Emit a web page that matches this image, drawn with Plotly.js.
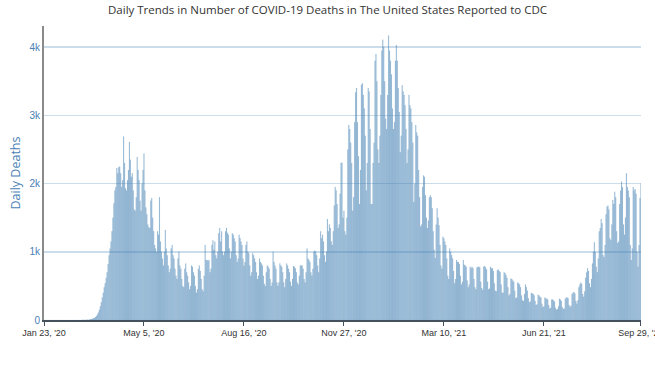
<!DOCTYPE html>
<html>
<head>
<meta charset="utf-8">
<script src="https://cdn.plot.ly/plotly-3.0.1.min.js"></script>
<style>html,body{margin:0;padding:0;background:#fff;}#chart{width:655px;height:365px;}</style>
</head>
<body>
<div id="chart"></div>
<script>
// Daily deaths, one value per day starting Jan 23, 2020 (weekly rows)
const startDate = '2020-01-23';
const dailyDeaths = [
  0,0,0,0,0,0,0,
  0,0,0,0,0,0,0,
  0,0,0,0,0,0,0,
  0,0,0,0,0,0,0,
  0,0,0,0,0,0,0,
  0,0,1,0,1,2,3,
  1,2,3,4,5,8,12,
  15,20,25,30,45,60,80,
  110,150,200,260,330,400,480,
  540,620,700,820,950,1050,1150,
  1300,1500,1710,1900,1950,2230,2150,
  2240,2250,2150,1950,2050,2690,2300,
  1930,1900,2050,2200,2610,2350,2100,
  2150,1900,1620,1600,1800,2390,2200,
  2050,1750,1600,2000,2200,2440,1900,
  1650,1550,1400,1360,1350,1750,1790,
  1500,1300,1100,1050,1000,1300,1250,
  1800,1150,1000,900,800,1000,1320,
  1050,950,800,700,750,1050,1100,
  950,900,750,650,600,900,1000,
  800,750,600,500,480,750,830,
  700,650,550,450,500,800,780,
  700,650,500,400,450,750,800,
  720,600,450,420,650,1100,880,
  880,870,880,700,750,1100,1170,
  1030,1150,950,900,1000,1270,1350,
  1150,1300,1000,950,1000,1300,1350,
  1280,1250,1050,900,1000,1270,1250,
  1200,1150,950,850,900,1250,1200,
  1150,1100,900,800,850,1100,1150,
  1000,980,800,650,700,980,950,
  900,850,700,600,650,900,850,
  830,800,650,530,500,700,800,
  780,750,600,500,550,1000,850,
  800,750,550,500,550,830,800,
  780,700,550,480,600,830,800,
  750,700,560,500,600,790,780,
  760,700,550,520,650,800,800,
  800,750,600,550,700,1050,900,
  880,850,700,650,750,1000,1020,
  1000,950,800,700,900,1300,1200,
  1250,1150,950,850,1000,1480,1300,
  1400,1350,1150,1100,1300,1680,1950,
  1900,1700,1350,1400,1850,2300,2310,
  1500,1600,1300,1250,1500,2500,2860,
  2800,2600,2300,1600,1800,2900,3340,
  3400,2900,2400,1700,2200,3450,3470,
  3300,3100,2700,1900,2300,3400,3350,
  2800,1700,1700,2300,2600,3800,3900,
  3500,2500,2300,2700,3300,3950,4110,
  4000,3500,2950,2800,3300,4170,3950,
  3800,3600,3100,2800,2900,3800,4030,
  3800,3400,3050,2460,2700,3440,3350,
  3300,3150,2800,2300,2500,3300,3150,
  3100,2900,2600,1730,2000,2860,2750,
  2700,2200,1800,1370,1400,1950,2120,
  2100,1830,1500,1350,1460,1800,1830,
  1800,1640,1300,1030,910,1400,1640,
  1500,1390,1100,800,750,1220,1200,
  1150,1100,900,650,600,1050,1000,
  950,900,720,540,600,880,850,
  850,820,650,520,560,880,810,
  800,780,580,480,520,780,760,
  780,760,600,480,450,770,780,
  780,770,560,470,440,780,790,
  770,740,560,450,460,780,760,
  760,720,540,430,420,730,740,
  720,700,520,400,400,700,690,
  660,620,480,360,380,610,600,
  580,560,430,320,330,550,540,
  520,480,360,290,280,380,520,
  480,430,320,260,270,400,390,
  380,360,280,220,230,370,360,
  340,330,240,190,200,330,320,
  310,300,220,170,180,300,300,
  290,270,180,150,160,200,310,
  300,280,190,160,170,310,330,
  330,320,220,190,210,380,400,
  410,390,280,240,290,480,520,
  550,530,380,340,420,620,700,
  760,720,540,480,600,830,1000,
  1140,1000,780,700,900,1300,1350,
  1480,1420,950,920,1100,1550,1660,
  1680,1620,1200,1170,1400,1760,1700,
  1880,1800,1300,1130,1150,1700,1900,
  2030,1950,1400,1250,1500,2150,1950,
  1900,1800,1100,880,1050,1950,1900,
  1920,1850,1000,780,1100,1790,2000
];
const xTickVals = ['2020-01-23','2020-05-05','2020-08-16','2020-11-27','2021-03-10','2021-06-21','2021-09-29'];
const xTickText = ["Jan 23, '20","May 5, '20","Aug 16, '20","Nov 27, '20","Mar 10, '21","Jun 21, '21","Sep 29, '21"];
const yTickVals = [0,1000,2000,3000,4000];
const yTickText = ['0','1k','2k','3k','4k'];

const dates = dailyDeaths.map((v, i) => {
  const d = new Date(startDate + 'T00:00:00Z');
  d.setUTCDate(d.getUTCDate() + i);
  return d.toISOString().slice(0, 10);
});

const trace = {
  type: 'bar',
  x: dates,
  y: dailyDeaths,
  marker: {
    color: 'rgba(70,130,180,0.55)',
    line: {color: 'rgba(70,130,180,0.15)', width: 0.3}
  },
  hoverinfo: 'x+y'
};

const layout = {
  width: 655,
  height: 365,
  margin: {l: 44, r: 14, t: 26, b: 45},
  paper_bgcolor: '#fff',
  plot_bgcolor: '#fff',
  bargap: 0,
  showlegend: false,
  title: {
    text: 'Daily Trends in Number of COVID-19 Deaths in The United States Reported to CDC',
    font: {family: 'Open Sans', size: 11.5, color: '#333'},
    x: 0.5, xanchor: 'center', y: 0.985, yanchor: 'top'
  },
  xaxis: {
    type: 'date',
    range: ['2020-01-23', '2021-09-29 01:00'],
    tickmode: 'array',
    tickvals: xTickVals,
    ticktext: xTickText,
    tickangle: 0,
    ticks: 'outside',
    ticklen: 4,
    tickcolor: '#44505c',
    showline: true,
    linecolor: '#44505c',
    linewidth: 1.5,
    showgrid: false,
    zeroline: false,
    ticklabeloverflow: 'allow',
    tickfont: {family: 'Liberation Sans, Arial', size: 9, color: '#333'}
  },
  yaxis: {
    range: [0, 4310],
    tickmode: 'array',
    tickvals: yTickVals,
    ticktext: yTickText,
    showline: true,
    linecolor: '#8a8a8a',
    linewidth: 2,
    showgrid: true,
    gridcolor: 'rgba(70,130,180,0.28)',
    gridwidth: 1.6,
    zeroline: false,
    ticks: '',
    tickfont: {family: 'Liberation Sans, Arial', size: 10, color: '#4a7fb5'},
    title: {text: 'Daily Deaths', font: {family: 'Open Sans', size: 12.5, color: '#4a7fb5'}, standoff: 6}
  }
};

Plotly.newPlot('chart', [trace], layout, {displayModeBar: false, staticPlot: true});
</script>
</body>
</html>
